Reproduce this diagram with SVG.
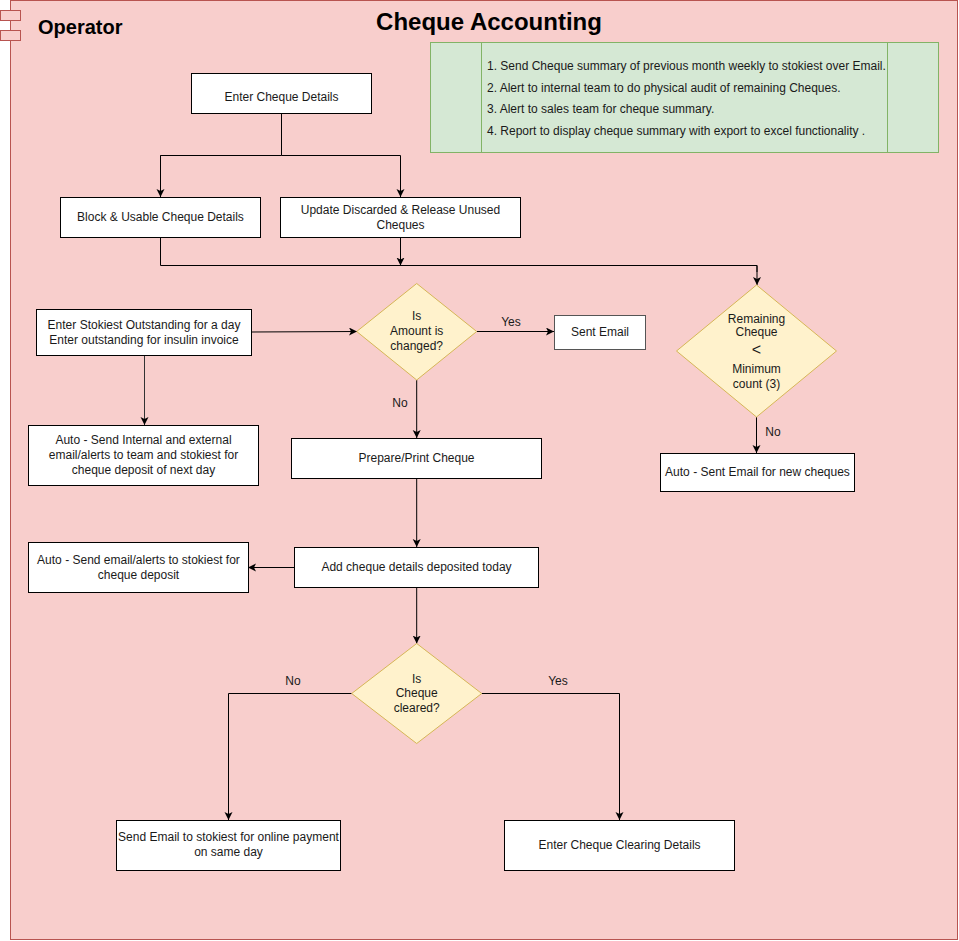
<svg xmlns="http://www.w3.org/2000/svg" width="959" height="941" viewBox="0 0 959 941">
<defs>
<style>
text{font-family:"Liberation Sans",Arial,sans-serif;font-size:12px;fill:#1a1a1a}
.c{text-anchor:middle}
.box{fill:#ffffff;stroke:#000000;stroke-width:1}
.dia{fill:#fff2cc;stroke:#d6b656;stroke-width:1}
.ln{fill:none;stroke:#000000;stroke-width:1}
.arr{marker-end:url(#ah)}
</style>
<marker id="ah" markerUnits="userSpaceOnUse" markerWidth="10" markerHeight="10" refX="8" refY="4" orient="auto">
<path d="M0,0 L8,4 L0,8 L2,4 z" fill="#000000"/>
</marker>
</defs>
<g id="frame">
<rect x="10.5" y="0.5" width="947" height="939" fill="#f8cecc" stroke="#b85450"/>
<rect x="0.5" y="10.5" width="20" height="10" fill="#f8cecc" stroke="#b85450"/>
<rect x="0.5" y="30.5" width="20" height="10" fill="#f8cecc" stroke="#b85450"/>
<text x="38" y="34" style="font-size:20px;font-weight:bold;fill:#000">Operator</text>
<text x="489" y="30" class="c" style="font-size:24px;font-weight:bold;fill:#000">Cheque Accounting</text>
</g>
<g id="notes">
<rect x="430.5" y="42.5" width="508" height="110" fill="#d5e8d4" stroke="#82b366"/>
<line x1="481.5" y1="42.5" x2="481.5" y2="152.5" stroke="#82b366"/>
<line x1="887.5" y1="42.5" x2="887.5" y2="152.5" stroke="#82b366"/>
<text x="487" y="70">1. Send Cheque summary of previous month weekly to stokiest over Email.</text>
<text x="487" y="91.5">2. Alert to internal team to do physical audit of remaining Cheques.</text>
<text x="487" y="113">3. Alert to sales team for cheque summary.</text>
<text x="487" y="134.5">4. Report to display cheque summary with export to excel functionality .</text>
</g>
<g id="connectors">
<path class="ln" d="M281.5,113 V155.5 H160.5 V196" />
<path class="ln arr" d="M160.5,155.5 V197"/>
<path class="ln arr" d="M281.5,155.5 H400.5 V197"/>
<path class="ln" d="M160.5,237 V265.5 H757 V272"/>
<path class="ln arr" d="M757,265.5 V285"/>
<path class="ln arr" d="M400.5,237 V265.5"/>
<path class="ln arr" d="M252,332 L357,331.5"/>
<path class="ln arr" d="M476.7,331.5 H554"/>
<path class="ln arr" d="M416.7,380 V438"/>
<path class="ln arr" style="stroke:#333" d="M144.5,355 V425"/>
<path class="ln arr" d="M756.5,417 V453"/>
<path class="ln arr" d="M416.7,478 V547"/>
<path class="ln arr" d="M294,567.5 H248"/>
<path class="ln arr" d="M416.7,587 V643.5"/>
<path class="ln arr" d="M351.7,693.5 H228.5 V820"/>
<path class="ln arr" d="M481.7,693.5 H619.5 V820"/>
<text x="511" y="325.5" class="c">Yes</text>
<text x="400" y="406.5" class="c">No</text>
<text x="773" y="435.5" class="c">No</text>
<text x="293" y="684.5" class="c">No</text>
<text x="558" y="684.5" class="c">Yes</text>
</g>
<g id="enter-cheque-details">
<rect class="box" x="191.5" y="73.5" width="180" height="40"/>
<text x="281.5" y="100.5" class="c">Enter Cheque Details</text>
</g>
<g id="block-usable">
<rect class="box" x="60.5" y="197.5" width="200" height="40"/>
<text x="160.5" y="221" class="c">Block &amp; Usable Cheque Details</text>
</g>
<g id="update-discarded">
<rect class="box" x="280.5" y="197.5" width="240" height="40"/>
<text x="400.5" y="214" class="c">Update Discarded &amp; Release Unused</text>
<text x="400.5" y="228.5" class="c">Cheques</text>
</g>
<g id="remaining-cheque">
<path class="dia" d="M756.5,285 L836.5,351 L756.5,417 L676.5,351 Z"/>
<text x="756.5" y="322.5" class="c">Remaining</text>
<text x="756.5" y="336" class="c">Cheque</text>
<text x="756.5" y="355" class="c" style="font-size:16px">&lt;</text>
<text x="756.5" y="372.5" class="c">Minimum</text>
<text x="756.5" y="387.5" class="c">count (3)</text>
</g>
<g id="auto-new-cheques">
<rect class="box" x="660.5" y="453.5" width="194" height="38"/>
<text x="757.5" y="475.5" class="c">Auto - Sent Email for new cheques</text>
</g>
<g id="enter-stokiest">
<rect class="box" x="36.5" y="309.5" width="215" height="46"/>
<text x="144" y="328.5" class="c">Enter Stokiest Outstanding for a day</text>
<text x="144" y="343.5" class="c">Enter outstanding for insulin invoice</text>
</g>
<g id="amount-changed">
<path class="dia" d="M416.7,283.5 L476.7,331.5 L416.7,380 L356.7,331.5 Z"/>
<text x="416.7" y="320" class="c">Is</text>
<text x="416.7" y="334.5" class="c">Amount is</text>
<text x="416.7" y="349.5" class="c">changed?</text>
</g>
<g id="sent-email">
<rect x="554.5" y="315.5" width="91" height="34" fill="#ffffff" stroke="#555555"/>
<text x="600" y="335.5" class="c">Sent Email</text>
</g>
<g id="auto-internal">
<rect class="box" x="28.5" y="425.5" width="230" height="60"/>
<text x="143.5" y="443.5" class="c">Auto - Send Internal and external</text>
<text x="143.5" y="458.5" class="c">email/alerts to team and stokiest for</text>
<text x="143.5" y="473.5" class="c">cheque deposit of next day</text>
</g>
<g id="prepare-print">
<rect class="box" x="291.5" y="438.5" width="250" height="40"/>
<text x="416.5" y="461.5" class="c">Prepare/Print Cheque</text>
</g>
<g id="auto-deposit">
<rect class="box" x="28.5" y="542.5" width="220" height="50"/>
<text x="138.5" y="563.5" class="c">Auto - Send email/alerts to stokiest for</text>
<text x="138.5" y="578.5" class="c">cheque deposit</text>
</g>
<g id="add-deposited">
<rect class="box" x="294.5" y="547.5" width="244" height="40"/>
<text x="416.5" y="570.5" class="c">Add cheque details deposited today</text>
</g>
<g id="cheque-cleared">
<path class="dia" d="M416.7,643.5 L481.7,693.5 L416.7,743.5 L351.7,693.5 Z"/>
<text x="416.7" y="682.5" class="c">Is</text>
<text x="416.7" y="696.5" class="c">Cheque</text>
<text x="416.7" y="711.5" class="c">cleared?</text>
</g>
<g id="send-online">
<rect class="box" x="116.5" y="820.5" width="224" height="50"/>
<text x="228.5" y="840.5" class="c">Send Email to stokiest for online payment</text>
<text x="228.5" y="855.5" class="c">on same day</text>
</g>
<g id="clearing-details">
<rect class="box" x="504.5" y="820.5" width="230" height="50"/>
<text x="619.5" y="848.5" class="c">Enter Cheque Clearing Details</text>
</g>
</svg>
